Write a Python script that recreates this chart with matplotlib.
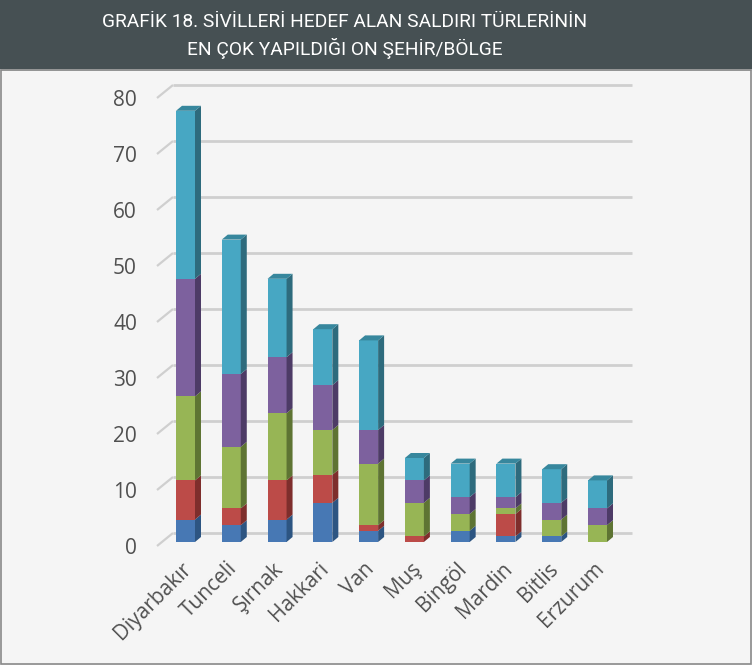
import matplotlib
matplotlib.use("Agg")
import matplotlib.pyplot as plt
from matplotlib.patches import Rectangle, Polygon
from matplotlib.transforms import ScaledTranslation
import numpy as np

# ---- data ----
cities = ["Diyarbakır", "Tunceli", "Şırnak", "Hakkari", "Van", "Muş", "Bingöl", "Mardin", "Bitlis", "Erzurum"]
s_blue   = [4, 3, 4, 7, 2, 0, 2, 1, 1, 0]
s_red    = [7, 3, 7, 5, 1, 1, 0, 4, 0, 0]
s_green  = [15, 11, 12, 8, 11, 6, 3, 1, 3, 3]
s_purple = [21, 13, 10, 8, 6, 4, 3, 2, 3, 3]
s_cyan   = [30, 24, 14, 10, 16, 4, 6, 6, 6, 5]
yticks = [0, 10, 20, 30, 40, 50, 60, 70, 80]
title_lines = "GRAFİK 18. SİVİLLERİ HEDEF ALAN SALDIRI TÜRLERİNİN\nEN ÇOK YAPILDIĞI ON ŞEHİR/BÖLGE"

series = [s_blue, s_red, s_green, s_purple, s_cyan]
front = ["#4778b4", "#bc4b48", "#97b555", "#7d619e", "#47a7c3"]
side  = ["#2d5582", "#7e2e2c", "#5e7433", "#4d3b66", "#2e6b7d"]
top   = ["#3a6799", "#9a3c39", "#7a9444", "#634d82", "#37879d"]

W, H = 752, 665
fig = plt.figure(figsize=(W / 100, H / 100), dpi=100)
fig.patch.set_facecolor("#f5f5f5")

# axes placement (pixels)
ax_l, ax_r = 157, 632
ax_bot, ax_top = 542, 94
ax = fig.add_axes([ax_l / W, (H - ax_bot) / H, (ax_r - ax_l) / W, (ax_bot - ax_top) / H])
ax.set_facecolor("none")
x = np.arange(len(cities))
spacing = 45.78
xl0 = -(185.5 - ax_l) / spacing
xl1 = 9 + (ax_r - 597.5) / spacing
ax.set_xlim(xl0, xl1)
ax.set_ylim(0, 80)
for s in ax.spines.values():
    s.set_visible(False)

pxx = (xl1 - xl0) / (ax_r - ax_l)
pxy = 80 / (ax_bot - ax_top)

# gridlines (back wall + floor diagonal)
for v in yticks:
    ax.plot([xl0, xl0 + 16 * pxx], [v - 4 * pxy, v + 9 * pxy], color="#cfcfcf", lw=1.6,
            clip_on=False, zorder=1, solid_capstyle="butt")
    ax.plot([xl0 + 16 * pxx, xl1], [v + 9 * pxy, v + 9 * pxy], color="#cfcfcf", lw=2.0,
            clip_on=False, zorder=1, solid_capstyle="butt")

# 3D-like stacked bars
bw = 19 / spacing
dx, dy = 6 * pxx, 5 * pxy
bottom = np.zeros(len(cities))
totals = np.sum(series, axis=0)
for k, vals in enumerate(series):
    vals = np.array(vals, dtype=float)
    ax.bar(x, vals, bw, bottom=bottom, color=front[k], edgecolor="none", zorder=3, clip_on=False)
    for i in range(len(cities)):
        if vals[i] <= 0:
            continue
        xr = x[i] + bw / 2
        y0, y1 = bottom[i], bottom[i] + vals[i]
        ax.add_patch(Polygon([[xr, y0], [xr + dx, y0 + dy], [xr + dx, y1 + dy], [xr, y1]],
                             closed=True, facecolor=side[k], edgecolor="none", zorder=3, clip_on=False))
        if abs(y1 - totals[i]) < 1e-9:
            xlft = x[i] - bw / 2
            ax.add_patch(Polygon([[xlft, y1], [xlft + dx, y1 + dy], [xr + dx, y1 + dy], [xr, y1]],
                                 closed=True, facecolor=top[k], edgecolor="none", zorder=3, clip_on=False))
    bottom += vals

# ticks
ax.set_yticks(yticks)
ax.set_yticklabels([str(v) for v in yticks])
ax.tick_params(axis="y", length=0, pad=14.4, labelsize=15, labelcolor="#505050")
for lab in ax.get_yticklabels():
    lab.set_fontfamily(["Open Sans", "DejaVu Sans"])
    lab.set_transform(lab.get_transform() + ScaledTranslation(0, -0.04, fig.dpi_scale_trans))
ax.set_xticks(x)
ax.set_xticklabels(cities, rotation=45, ha="right", rotation_mode="anchor", va="center",
                   fontsize=15, color="#505050", family=["Open Sans", "DejaVu Sans"])
ax.tick_params(axis="x", length=0, pad=17)
for lab in ax.get_xticklabels():
    lab.set_transform(lab.get_transform() + ScaledTranslation(0.03, 0, fig.dpi_scale_trans))

# header band
band_h = 69
fig.patches.append(Rectangle((0, (H - band_h) / H), 1, band_h / H, transform=fig.transFigure,
                             facecolor="#465053", edgecolor="none", zorder=0))
fig.patches.append(Rectangle((0, (H - band_h - 2) / H), 1, 2 / H, transform=fig.transFigure,
                             facecolor="#c9cfd1", edgecolor="none", zorder=0))
# border
fig.patches.append(Rectangle((0.5 / W, 1.5 / H), (W - 1.5) / W, (H - band_h - 2) / H, transform=fig.transFigure,
                             facecolor="none", edgecolor="#8a8a8a", lw=1.2, zorder=0))
fig.text(345 / W, 1 - 36 / H, title_lines, ha="center", va="center", color="white",
         fontsize=13.8, fontweight="normal", linespacing=1.4, family=["Roboto", "DejaVu Sans"])

fig.savefig("out.png", dpi=100, facecolor=fig.get_facecolor())
